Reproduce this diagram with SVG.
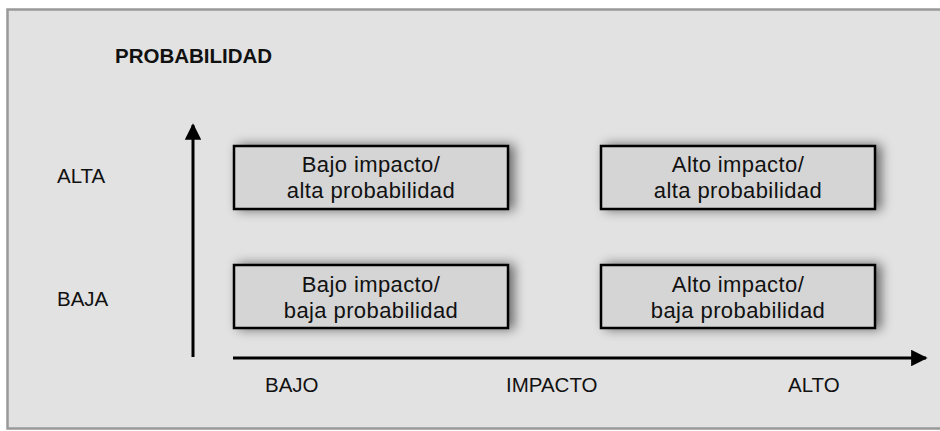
<svg xmlns="http://www.w3.org/2000/svg" width="940" height="431" viewBox="0 0 940 431">
  <defs>
    <filter id="shadow" x="-20%" y="-50%" width="140%" height="200%">
      <feGaussianBlur in="SourceAlpha" stdDeviation="6"/>
      <feOffset dx="5" dy="0" result="b"/>
      <feComponentTransfer><feFuncA type="linear" slope="0.55"/></feComponentTransfer>
      <feMerge><feMergeNode/><feMergeNode in="SourceGraphic"/></feMerge>
    </filter>
    <marker id="arrow" viewBox="0 0 10 10" refX="9" refY="5" markerWidth="7.5" markerHeight="5.5" markerUnits="strokeWidth" orient="auto">
      <path d="M0,0 L10,5 L0,10 Z" fill="#000"/>
    </marker>
  </defs>
  <style>
    .box { fill: #d5d5d5; stroke: #000; stroke-width: 2.5; }
    .bt { font-family: "Liberation Sans", Arial, sans-serif; font-size: 22px; letter-spacing: 0.4px; fill: #111; text-anchor: middle; }
    .lbl { font-family: "Liberation Sans", Arial, sans-serif; font-size: 20.5px; fill: #111; }
    .axis { stroke: #000; stroke-width: 3; fill: none; }
  </style>
  <rect x="0" y="0" width="940" height="431" fill="#fff"/>
  <rect x="7.5" y="9.5" width="940" height="419" fill="#e2e2e2" stroke="#999" stroke-width="2.5"/>

  <g id="title">
    <text class="lbl" x="115" y="63" font-weight="bold">PROBABILIDAD</text>
  </g>
  <g id="label-alta"><text class="lbl" x="57" y="183">ALTA</text></g>
  <g id="label-baja"><text class="lbl" x="57" y="306">BAJA</text></g>
  <g id="label-bajo"><text class="lbl" x="265" y="392">BAJO</text></g>
  <g id="label-impacto"><text class="lbl" x="506" y="392">IMPACTO</text></g>
  <g id="label-alto"><text class="lbl" x="788" y="392">ALTO</text></g>

  <g id="connectors">
    <line class="axis" x1="193" y1="357" x2="193" y2="125" marker-end="url(#arrow)"/>
    <line class="axis" x1="233" y1="358" x2="926" y2="358" marker-end="url(#arrow)"/>
  </g>

  <g id="node-bajo-alta">
    <rect class="box" x="234" y="146" width="274" height="63" filter="url(#shadow)"/>
    <text class="bt" x="371" y="172">Bajo impacto/</text>
    <text class="bt" x="371" y="198">alta probabilidad</text>
  </g>
  <g id="node-alto-alta">
    <rect class="box" x="601" y="146" width="274" height="63" filter="url(#shadow)"/>
    <text class="bt" x="738" y="172">Alto impacto/</text>
    <text class="bt" x="738" y="198">alta probabilidad</text>
  </g>
  <g id="node-bajo-baja">
    <rect class="box" x="234" y="265" width="274" height="63" filter="url(#shadow)"/>
    <text class="bt" x="371" y="292">Bajo impacto/</text>
    <text class="bt" x="371" y="318">baja probabilidad</text>
  </g>
  <g id="node-alto-baja">
    <rect class="box" x="601" y="265" width="274" height="63" filter="url(#shadow)"/>
    <text class="bt" x="738" y="292">Alto impacto/</text>
    <text class="bt" x="738" y="318">baja probabilidad</text>
  </g>
</svg>
